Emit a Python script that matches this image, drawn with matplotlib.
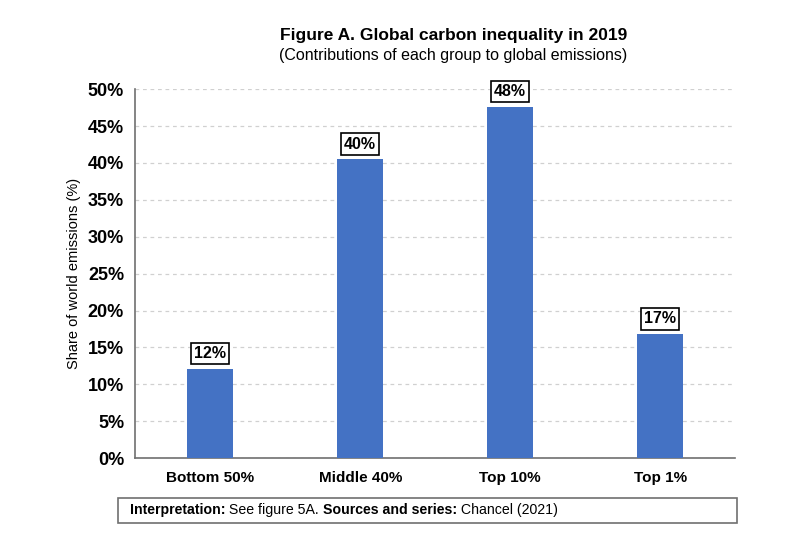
import matplotlib
matplotlib.use("Agg")
import matplotlib.pyplot as plt
from matplotlib.patches import Rectangle

categories = ["Bottom 50%", "Middle 40%", "Top 10%", "Top 1%"]
values = [12.1, 40.5, 47.6, 16.8]
labels = ["12%", "40%", "48%", "17%"]
yticks = [0, 5, 10, 15, 20, 25, 30, 35, 40, 45, 50]

plt.rcParams['font.family'] = ['Liberation Sans', 'DejaVu Sans']

fig = plt.figure(figsize=(8, 5.44), dpi=100)
ax = fig.add_axes([0.169, 0.158, 0.75, 0.678])

x = list(range(len(categories)))
ax.bar(x, values, width=0.31, color="#4472C4", zorder=3)
ax.set_xlim(-0.5, 3.5)
ax.set_ylim(0, 50)
ax.set_yticks(yticks)
ax.set_yticklabels([f"{v}%" for v in yticks], fontsize=13, fontweight="bold")
ax.set_xticks(x)
ax.set_xticklabels(categories, fontsize=11, fontweight="bold")
ax.tick_params(axis="both", length=0, pad=8)
ax.tick_params(axis="x", pad=9)
ax.yaxis.grid(True, linestyle=(0, (3, 3)), color="#d0d0d0", linewidth=0.9, zorder=0)
for s in ["top", "right"]:
    ax.spines[s].set_visible(False)
ax.spines["left"].set_color("#707070")
ax.spines["bottom"].set_color("#707070")
ax.spines["left"].set_linewidth(1.2)
ax.spines["bottom"].set_linewidth(1.2)

for xi, v, lab in zip(x, values, labels):
    ax.annotate(lab, (xi, v), xytext=(0, 5.5), textcoords="offset points",
                ha="center", va="bottom", fontsize=11.5, fontweight="bold",
                bbox=dict(boxstyle="square,pad=0.2", fc="white", ec="black", lw=1.2),
                zorder=5)

ax.set_ylabel("Share of world emissions (%)", fontsize=10.5, labelpad=5)

fig.text(0.567, 0.935, "Figure A. Global carbon inequality in 2019", ha="center",
         va="center", fontsize=12.5, fontweight="bold")
fig.text(0.567, 0.898, "(Contributions of each group to global emissions)", ha="center",
         va="center", fontsize=11.5)

# footer box
fig.patches.append(Rectangle((0.147, 0.039), 0.774, 0.046, transform=fig.transFigure,
                             fill=False, ec="#707070", lw=1.2))
parts = [("Interpretation:", "bold"), (" See figure 5A. ", "normal"),
         ("Sources and series:", "bold"), (" Chancel (2021)", "normal")]
fig.canvas.draw()
renderer = fig.canvas.get_renderer()
xpos = 0.162
for txt, wt in parts:
    t = fig.text(xpos, 0.062, txt, ha="left", va="center", fontsize=10.2, fontweight=wt)
    bb = t.get_window_extent(renderer=renderer)
    xpos += bb.width / fig.bbox.width

fig.savefig("out.png", dpi=100)
